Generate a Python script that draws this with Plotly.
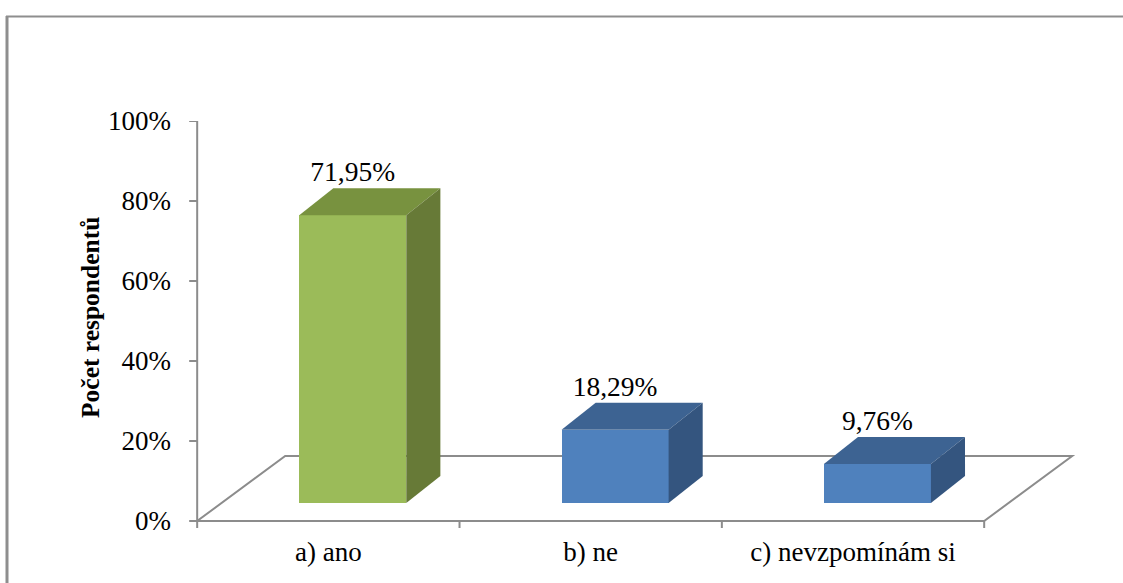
import plotly.graph_objects as go

# Survey answers and their shares (in %)
categories = ["a) ano", "b) ne", "c) nevzpomínám si"]
values = [71.95, 18.29, 9.76]
value_labels = ["71,95%", "18,29%", "9,76%"]

y_ticks = [0, 20, 40, 60, 80, 100]
y_tick_labels = ["0%", "20%", "40%", "60%", "80%", "100%"]
y_title = "Počet respondentů"

front_colors = ["#9BBB59", "#4F81BD", "#4F81BD"]
top_colors = ["#78923F", "#3D6392", "#3D6392"]
side_colors = ["#677A37", "#34557F", "#34557F"]

FONT = "Liberation Serif, Times New Roman, serif"
AXIS_GREY = "#8C8C8C"

# Pseudo-3D geometry expressed in axis units (categories on x, percent on y)
FLOOR_DX, FLOOR_DY = 0.3355, 16.25     # depth of the floor
BAR_SHIFT, BAR_LIFT = 0.093, 4.5       # bars stand inside the floor
BAR_WIDTH = 0.408
DEPTH_DX, DEPTH_DY = 0.13, 6.75        # depth of each column
TICK_X, TICK_Y = 0.0305, 1.75

X_RANGE = [-0.535, 2.85]
Y_RANGE = [-3, 100]
M_L, M_R, M_T, M_B = 188, 47, 121, 50
W, H = 1123, 583

idx = list(range(len(categories)))
front_x = [i + BAR_SHIFT for i in idx]

fig = go.Figure()

# front faces of the columns
fig.add_trace(go.Bar(
    x=front_x, y=values, base=[BAR_LIFT] * len(values), width=BAR_WIDTH,
    marker=dict(color=front_colors, line=dict(width=0)),
    hoverinfo="skip", showlegend=False,
))

# top and side faces
for fx, v, tc, sc in zip(front_x, values, top_colors, side_colors):
    left, right = fx - BAR_WIDTH / 2, fx + BAR_WIDTH / 2
    top = BAR_LIFT + v
    fig.add_trace(go.Scatter(
        x=[left, right, right + DEPTH_DX, left + DEPTH_DX, left],
        y=[top, top, top + DEPTH_DY, top + DEPTH_DY, top],
        fill="toself", fillcolor=tc, mode="lines", line=dict(width=0, color=tc),
        hoverinfo="skip", showlegend=False,
    ))
    fig.add_trace(go.Scatter(
        x=[right, right, right + DEPTH_DX, right + DEPTH_DX, right],
        y=[BAR_LIFT, top, top + DEPTH_DY, BAR_LIFT + DEPTH_DY, BAR_LIFT],
        fill="toself", fillcolor=sc, mode="lines", line=dict(width=0, color=sc),
        hoverinfo="skip", showlegend=False,
    ))

# value labels above each column
fig.add_trace(go.Scatter(
    x=front_x, y=[BAR_LIFT + v + DEPTH_DY for v in values],
    mode="text", text=value_labels, textposition="top center",
    textfont=dict(family=FONT, size=27.5, color="black"),
    hoverinfo="skip", showlegend=False, cliponaxis=False,
))

# value axis line and its tick marks
ax_x, ax_y = [-0.5, -0.5], [y_ticks[0], y_ticks[-1]]
for t in y_ticks:
    ax_x += [None, -0.5 - TICK_X, -0.5]
    ax_y += [None, t, t]
# category axis line and tick marks on the category boundaries
bounds = [i - 0.5 for i in idx] + [idx[-1] + 0.5]
ax_x += [None, bounds[0], bounds[-1]]
ax_y += [None, 0, 0]
for b in bounds:
    ax_x += [None, b, b]
    ax_y += [None, 0, -TICK_Y]
fig.add_trace(go.Scatter(
    x=ax_x, y=ax_y, mode="lines", line=dict(color=AXIS_GREY, width=2),
    hoverinfo="skip", showlegend=False,
))

# floor outline behind the columns
x0, x1 = bounds[0], bounds[-1]
fig.add_shape(
    type="path", xref="x", yref="y", layer="below",
    path=(f"M {x0},0 L {x1},0 L {x1 + FLOOR_DX},{FLOOR_DY} "
          f"L {x0 + FLOOR_DX},{FLOOR_DY} Z"),
    line=dict(color=AXIS_GREY, width=2),
)

# helpers converting page pixels to paper coordinates
pw, ph = W - M_L - M_R, H - M_T - M_B
px = lambda p: (p - M_L) / pw
py = lambda p: (H - M_B - p) / ph

# chart-area frame (left and top edges)
fig.add_shape(type="line", xref="paper", yref="paper",
              x0=px(7), x1=px(7), y0=py(16), y1=py(H + 5),
              line=dict(color="#8E8E8E", width=3))
fig.add_shape(type="line", xref="paper", yref="paper",
              x0=px(6), x1=px(W + 5), y0=py(16.5), y1=py(16.5),
              line=dict(color="#8E8E8E", width=2))

# rotated value-axis title
fig.add_annotation(
    text=y_title, textangle=-90, showarrow=False,
    xref="paper", yref="paper", x=px(90), y=py(318),
    xanchor="center", yanchor="middle",
    font=dict(family=FONT, size=25.5, color="black", weight="bold"),
)

fig.update_layout(
    width=W, height=H,
    margin=dict(l=M_L, r=M_R, t=M_T, b=M_B),
    paper_bgcolor="white", plot_bgcolor="white",
    font=dict(family=FONT, size=27, color="black"),
    bargap=0,
    xaxis=dict(
        range=X_RANGE, showgrid=False, zeroline=False, showline=False,
        tickvals=idx, ticktext=categories, ticks="",
        tickfont=dict(family=FONT, size=27, color="black"),
        fixedrange=True,
    ),
    yaxis=dict(
        range=Y_RANGE, showgrid=False, zeroline=False, showline=False,
        tickvals=y_ticks, ticktext=y_tick_labels, ticks="",
        tickfont=dict(family=FONT, size=27, color="black"),
        ticklabelstandoff=16,
        fixedrange=True,
    ),
)

fig.write_html("out.html")
